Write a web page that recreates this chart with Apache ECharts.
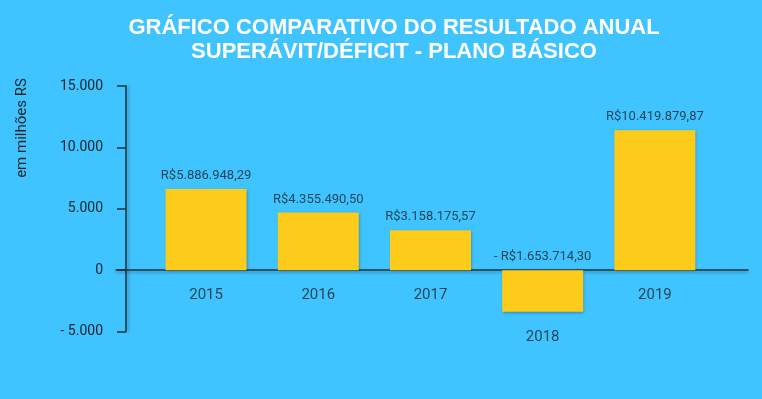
<!DOCTYPE html>
<html lang="pt-BR">
<head>
    <meta charset="UTF-8">
    <title>Resultado anual</title>
    <script type="text/javascript" src="https://cdn.jsdelivr.net/npm/echarts@6/dist/echarts.min.js"></script>
    <style>
        html, body { margin: 0; padding: 0; background: #40C4FF; }
        #grafico { width: 762px; height: 399px; }
    </style>
</head>
<body>
<div id="grafico"></div>
<script type="text/javascript">
    // dados (altura das barras, em milhoes)
    var anos = ['2015', '2016', '2017', '2018', '2019'];
    var valores = [6600, 4700, 3250, -3400, 11400];
    var rotulos = ['R$5.886.948,29', 'R$4.355.490,50', 'R$3.158.175,57', '- R$1.653.714,30', 'R$10.419.879,87'];
    var yTicks = [-5000, 0, 5000, 10000, 15000];
    var yTickLabels = ['- 5.000', '0', '5.000', '10.000', '15.000'];

    var corTexto = '#1c2327';
    var corEixo = '#263238';

    var barras = [], topos = [], bases = [];
    for (var i = 0; i < anos.length; i++) {
        barras.push([i, valores[i]]);
        topos.push([i, Math.max(valores[i], 0)]);
        bases.push([i, Math.min(valores[i], 0)]);
    }

    var mychart = echarts.init(document.getElementById('grafico'));
    var option = {
        animation: false,
        backgroundColor: '#40C4FF',
        title: {
            text: 'GRÁFICO COMPARATIVO DO RESULTADO ANUAL\nSUPERÁVIT/DÉFICIT - PLANO BÁSICO',
            left: 394,
            textAlign: 'center',
            top: 16,
            padding: 0,
            textStyle: {
                color: '#ffffff',
                fontFamily: 'Liberation Sans',
                fontWeight: 'bold',
                fontSize: 22,
                lineHeight: 24
            }
        },
        graphic: [{
            type: 'text',
            x: 22,
            y: 128,
            rotation: Math.PI / 2,
            style: {
                text: 'em milhões RS',
                fill: corTexto,
                font: '15px Roboto',
                align: 'center',
                verticalAlign: 'middle'
            }
        }],
        grid: {
            left: 116,
            right: 14,
            top: 86,
            bottom: 67.5
        },
        xAxis: {
            type: 'value',
            min: -0.803,
            max: 4.83,
            axisLine: {
                show: true,
                onZero: true,
                lineStyle: { color: corEixo, width: 1.5, shadowColor: 'rgba(0,0,0,0.3)', shadowBlur: 3, shadowOffsetY: 2 }
            },
            axisTick: { show: false },
            axisLabel: { show: false },
            splitLine: { show: false }
        },
        yAxis: {
            type: 'value',
            min: yTicks[0],
            max: yTicks[yTicks.length - 1],
            interval: 5000,
            offset: -10,
            axisLine: {
                show: true,
                onZero: false,
                lineStyle: { color: corEixo, width: 1.5, shadowColor: 'rgba(0,0,0,0.3)', shadowBlur: 3, shadowOffsetX: 2 }
            },
            axisTick: {
                show: true,
                length: 9,
                lineStyle: { color: corEixo, width: 1.5 }
            },
            axisLabel: {
                margin: 23,
                color: corTexto,
                fontFamily: 'Roboto',
                fontSize: 14,
                formatter: function (v) {
                    var k = yTicks.indexOf(v);
                    return k >= 0 ? yTickLabels[k] : '';
                }
            },
            splitLine: { show: false }
        },
        series: [{
            name: 'resultado',
            type: 'bar',
            data: barras,
            barWidth: 81,
            itemStyle: {
                color: '#FDCC1A',
                shadowColor: 'rgba(0,0,0,0.3)',
                shadowBlur: 3,
                shadowOffsetX: 1,
                shadowOffsetY: 1
            }
        }, {
            name: 'valores',
            type: 'scatter',
            data: topos,
            symbolSize: 1,
            silent: true,
            itemStyle: { color: 'rgba(0,0,0,0)' },
            label: {
                show: true,
                position: 'top',
                distance: 6,
                color: corTexto,
                fontFamily: 'Roboto',
                fontSize: 13,
                formatter: function (p) { return rotulos[p.dataIndex]; }
            }
        }, {
            name: 'anos',
            type: 'scatter',
            data: bases,
            symbolSize: 1,
            silent: true,
            itemStyle: { color: 'rgba(0,0,0,0)' },
            label: {
                show: true,
                position: 'bottom',
                distance: 17,
                color: corTexto,
                fontFamily: 'Roboto',
                fontSize: 15,
                formatter: function (p) { return anos[p.dataIndex]; }
            }
        }]
    };
    mychart.setOption(option);
</script>
</body>
</html>
